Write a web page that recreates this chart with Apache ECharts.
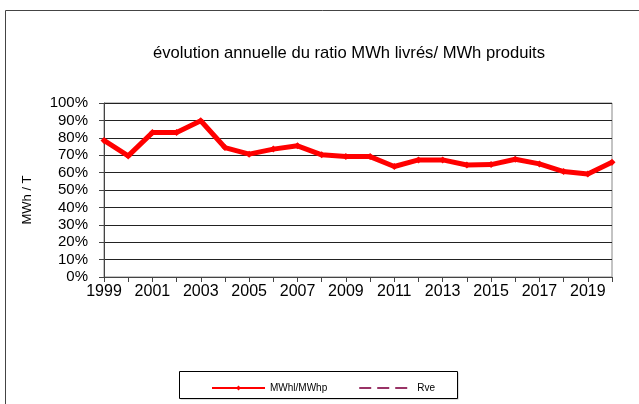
<!DOCTYPE html>
<html><head><meta charset="utf-8">
<script src="https://cdn.jsdelivr.net/npm/echarts@6/dist/echarts.min.js"></script>
<style>html,body{margin:0;padding:0;background:#fff}#c{width:639px;height:404px}</style>
</head><body><div id="c"></div>
<script>
const years = ['1999','2000','2001','2002','2003','2004','2005','2006','2007','2008','2009','2010','2011','2012','2013','2014','2015','2016','2017','2018','2019','2020'];
const ratio = [0.785,0.696,0.83,0.83,0.898,0.744,0.706,0.735,0.754,0.702,0.692,0.692,0.635,0.673,0.673,0.644,0.646,0.677,0.65,0.606,0.592,0.66];
const rve = [];
const titleText = 'évolution annuelle du ratio MWh livrés/ MWh produits';
const yName = 'MWh / T';
const font = 'Liberation Sans, Arial, sans-serif';

const chart = echarts.init(document.getElementById('c'), null, {renderer:'canvas'});
chart.setOption({
  animation:false,
  backgroundColor:'#fff',
  textStyle:{fontFamily:font},
  title:{text:titleText,left:344,top:40,textAlign:'center',textStyle:{fontSize:16.6,fontWeight:'normal',color:'#000',fontFamily:font}},
  graphic:[
    {type:'rect',shape:{x:5.5,y:10.5,width:700,height:500},style:{fill:'none',stroke:'#444',lineWidth:1},z:-1},
    {type:'rect',shape:{x:180.5,y:372.5,width:278,height:27},style:{fill:'#bbb',stroke:'none'},z:-1},
    {type:'rect',shape:{x:179.5,y:371.5,width:278,height:27},style:{fill:'#fff',stroke:'#000',lineWidth:1},z:0}
  ],
  legend:{
    left:206,top:378,itemWidth:53,itemHeight:6,itemGap:31,
    textStyle:{fontSize:10,color:'#000',fontFamily:font},
    data:[
      {name:'MWhl/MWhp'},
      {name:'Rve',itemStyle:{color:'transparent',borderWidth:0,opacity:0}}
    ]
  },
  grid:{left:104,right:27,top:103,bottom:127,show:true,borderColor:'#888',borderWidth:1,containLabel:false},
  xAxis:{
    type:'category',data:years,boundaryGap:false,
    axisLine:{lineStyle:{color:'#444',width:1}},
    axisTick:{show:true,interval:0,length:5,lineStyle:{color:'#444'}},
    axisLabel:{interval:1,fontSize:16,color:'#000',margin:7,fontFamily:font},
    splitLine:{show:false}
  },
  yAxis:{
    type:'value',min:0,max:1,interval:0.1,
    name:yName,nameLocation:'middle',nameGap:70,nameRotate:90,
    nameTextStyle:{fontSize:13,color:'#000',fontFamily:font,padding:[0,20,0,0]},
    axisLine:{show:true,lineStyle:{color:'#444',width:1}},
    axisTick:{show:true,length:5,lineStyle:{color:'#444'}},
    axisLabel:{fontSize:15,color:'#000',margin:16,fontFamily:font,formatter:v=>Math.round(v*100)+'%'},
    splitLine:{show:true,lineStyle:{color:'#222',width:1}}
  },
  series:[
    {name:'MWhl/MWhp',type:'line',data:ratio,color:'#ff0000',
     lineStyle:{color:'#ff0000',width:5},symbol:'diamond',symbolSize:7,
     itemStyle:{color:'#ff0000'},z:5},
    {name:'Rve',type:'line',data:rve,color:'#993366',symbol:'none',
     lineStyle:{color:'#993366',width:2,type:[12,6]}}
  ]
});
</script></body></html>
